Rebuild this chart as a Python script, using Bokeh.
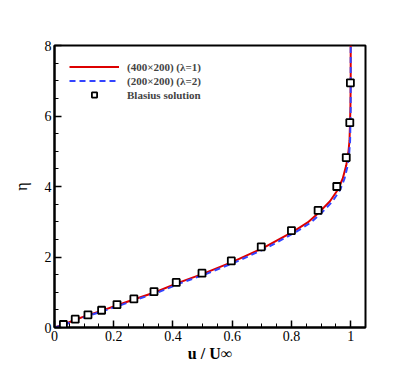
from bokeh.plotting import figure
from bokeh.models import FixedTicker, CustomJSTickFormatter, Range1d, Legend, LegendItem
from bokeh.embed import file_html
from bokeh.resources import INLINE

# Red solid: (400x200) (lambda=1)
red_u = [0.0, 0.03, 0.07, 0.113, 0.16, 0.212, 0.27, 0.34, 0.415, 0.503, 0.603, 0.705, 0.806,
         0.855, 0.895, 0.93, 0.956, 0.973, 0.985, 0.992, 0.996, 0.999, 1.0, 1.0]
red_eta = [0.0, 0.08, 0.22, 0.35, 0.48, 0.63, 0.80, 1.0, 1.26, 1.53, 1.87, 2.26, 2.72,
           2.98, 3.28, 3.58, 3.9, 4.22, 4.6, 4.95, 5.3, 6.2, 7.0, 8.0]
# Blue dashed: (200x200) (lambda=2)
blue_u = [0.0, 0.035, 0.077, 0.121, 0.169, 0.222, 0.28, 0.351, 0.426, 0.515, 0.615, 0.717, 0.817,
          0.866, 0.905, 0.939, 0.964, 0.979, 0.99, 0.995, 0.998, 1.0, 1.0, 1.0]
blue_eta = red_eta
# Blasius solution
bl_u = [0.030, 0.070, 0.113, 0.159, 0.211, 0.268, 0.336, 0.411, 0.498, 0.597, 0.698,
        0.800, 0.890, 0.953, 0.985, 0.997, 0.999]
bl_eta = [0.085, 0.236, 0.36, 0.49, 0.65, 0.81, 1.02, 1.28, 1.54, 1.89, 2.29,
          2.75, 3.32, 4.0, 4.82, 5.81, 6.94]

x_ticks = [0, 0.2, 0.4, 0.6, 0.8, 1.0]
y_ticks = [0, 2, 4, 6, 8]

FONT = "Liberation Serif"

p = figure(frame_width=311, frame_height=282, output_backend="svg", toolbar_location=None,
           x_range=Range1d(0, 1.05), y_range=Range1d(0, 8),
           min_border_left=54, min_border_right=34, min_border_top=45, min_border_bottom=30)
p.xgrid.visible = False
p.ygrid.visible = False
p.outline_line_color = "black"
p.outline_line_width = 2
p.background_fill_color = "white"
p.border_fill_color = "white"

p.xaxis.ticker = FixedTicker(ticks=x_ticks, minor_ticks=[i * 0.05 for i in range(22)])
p.yaxis.ticker = FixedTicker(ticks=y_ticks, minor_ticks=[i * 0.5 for i in range(17)])
p.xaxis.formatter = CustomJSTickFormatter(code="return String(Math.round(tick*10)/10)")
p.yaxis.formatter = CustomJSTickFormatter(code="return String(Math.round(tick))")
for ax in (p.xaxis[0], p.yaxis[0]):
    ax.axis_line_width = 2
    ax.axis_line_color = "black"
    ax.major_tick_in = 7
    ax.major_tick_out = 0
    ax.minor_tick_in = 4
    ax.minor_tick_out = 0
    ax.major_tick_line_width = 1.5
    ax.minor_tick_line_width = 1
    ax.major_label_text_font = FONT
    ax.major_label_text_font_size = "14px"
    ax.major_label_text_color = "black"
    ax.axis_label_text_font = FONT
    ax.axis_label_text_font_size = "16px"
    ax.axis_label_text_color = "black"
    ax.major_label_standoff = 3
    ax.axis_label_standoff = 1

p.xaxis.axis_label = "u / U∞"
p.xaxis.axis_label_text_font_style = "bold"
p.yaxis.axis_label = "η"
p.yaxis.axis_label_text_font_style = "normal"
p.yaxis.axis_label_standoff = 12

r1 = p.line(red_u, red_eta, line_color="#dd0000", line_width=2)
r2 = p.line(blue_u, blue_eta, line_color="#3344ff", line_width=2, line_dash="6 4")
r3 = p.scatter(bl_u, bl_eta, marker="square", size=7, fill_color="white",
               line_color="black", line_width=1.8)

legend = Legend(items=[LegendItem(label="(400×200) (λ=1)", renderers=[r1]),
                       LegendItem(label="(200×200) (λ=2)", renderers=[r2]),
                       LegendItem(label="Blasius solution", renderers=[r3])],
                location="top_left", border_line_color=None, background_fill_alpha=0,
                label_text_font=FONT, label_text_font_size="11px", label_text_font_style="bold",
                glyph_width=50, glyph_height=13, label_height=13, spacing=1,
                margin=15, padding=10, label_standoff=8)
p.add_layout(legend)

open("out.html", "w").write(file_html(p, INLINE))
